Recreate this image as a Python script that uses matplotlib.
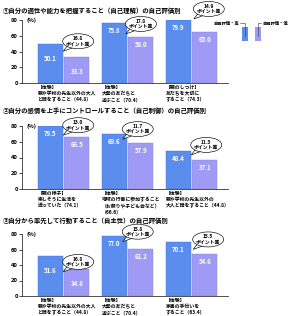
import matplotlib
matplotlib.use("Agg")
import matplotlib.pyplot as plt
from matplotlib.patches import Rectangle, Ellipse, Polygon
from matplotlib.lines import Line2D
from matplotlib.transforms import ScaledTranslation

plt.rcParams['font.family'] = ['Noto Sans CJK JP', 'DejaVu Sans']

W, H = 290, 316

titles = [
    "①自分の適性や能力を把握すること（自己理解）の自己評価別",
    "②自分の感情を上手にコントロールすること（自己制御）の自己評価別",
    "③自分から率先して行動すること（自主性）の自己評価別",
]
categories = [
    ["【体験】\n親や学校の先生以外の大人\nと話をすること（44.8）",
     "【体験】\n大勢の友だちと\n遊ぶこと（70.4）",
     "【親のしつけ】\n友だちを大切に\nすること（74.3）"],
    ["【親の様子】\n楽しそうに生活を\n送っていた（74.1）",
     "【体験】\n地域の行事に参加すること\n（お祭りや子ども会など）\n（66.6）",
     "【体験】\n親や学校の先生以外の\n大人と話をすること（44.8）"],
    ["【体験】\n親や学校の先生以外の大人\nと話をすること（44.8）",
     "【体験】\n大勢の友だちと\n遊ぶこと（70.4）",
     "【体験】\n家事の手伝いを\nすること（63.4）"],
]
high_values = [
    [50.1, 75.8, 79.9],
    [79.5, 69.6, 48.4],
    [51.6, 77.0, 70.1],
]
low_values = [
    [33.3, 58.0, 65.0],
    [66.5, 57.9, 37.1],
    [34.8, 61.2, 54.6],
]
diff_labels = [
    ["16.8", "17.8", "14.9"],
    ["13.0", "11.7", "11.3"],
    ["16.8", "15.8", "15.5"],
]
legend_labels = ["自己評価・高", "自己評価・低"]
yticks = [0, 20, 40, 60, 80]

# layout (pixel based)
panel_px = [(20, 83), (126, 189), (234, 296)]   # (top of 80, zero line)
title_px = [10, 110, 221]
bubble_pos = [
    [(0.23, 53), (0.21, 75), (0.27, 94)],
    [(0.23, 81), (0.16, 76), (0.23, 56)],
    [(0.23, 44), (0.16, 83), (0.26, 73)],
]
label_drop = [
    [11, 4, 4],
    [4, 4, 4],
    [11, 4, 4],
]

blue = '#5B8DEF'
lav = '#9F9BF4'
ax_left_px, ax_right_px = 22, 228
xmin, xmax = -0.648, 2.57
bw = 0.39
off = 0.21

fig = plt.figure(figsize=(W / 100, H / 100), dpi=100)


def bubble(ax, x, y, text):
    tr = fig.dpi_scale_trans + ScaledTranslation(x, y, ax.transData)
    tail = Polygon([(-0.10, -0.035), (-0.04, -0.06), (-0.15, -0.10)], closed=True,
                   facecolor='white', edgecolor='black', lw=0.45, transform=tr,
                   clip_on=False, zorder=5)
    ell = Ellipse((0, 0), 0.31, 0.15, facecolor='white', edgecolor='black', lw=0.45,
                  transform=tr, clip_on=False, zorder=6)
    ax.add_patch(tail)
    ax.add_patch(ell)
    ax.text(x, y, text, ha='center', va='center', fontsize=3.5, fontweight='bold',
            linespacing=1.05, zorder=7, clip_on=False)


for p in range(3):
    top_px, zero_px = panel_px[p]
    ax = fig.add_axes([ax_left_px / W, 1 - zero_px / H,
                       (ax_right_px - ax_left_px) / W, (zero_px - top_px) / H])
    ax.set_xlim(xmin, xmax)
    ax.set_ylim(0, 80)
    xs = list(range(3))
    ax.bar([x - off for x in xs], high_values[p], width=bw, color=blue,
           edgecolor='#4a74c8', linewidth=0.3, zorder=2)
    ax.bar([x + off for x in xs], low_values[p], width=bw, color=lav,
           edgecolor='#8582d6', linewidth=0.3, zorder=2)
    ppd = (zero_px - top_px) / 80.0  # px per data unit
    for i in xs:
        for x, v in ((i - off, high_values[p][i]), (i + off, low_values[p][i])):
            ax.text(x, v - label_drop[p][i] / ppd, f"{v:.1f}", ha='center', va='top',
                    color='white', fontsize=4.4, fontweight='bold', zorder=3)
        bx, by = bubble_pos[p][i]
        bubble(ax, i + bx, by, f"{diff_labels[p][i]}\nポイント差")
        ax.text(i - off - bw / 2, -2 / ppd, categories[p][i], ha='left', va='top',
                fontsize=3.5, fontweight='bold', linespacing=1.25, clip_on=False)
    ax.set_xticks([])
    ax.set_yticks(yticks)
    ax.set_yticklabels([str(t) for t in yticks], fontsize=4.2, fontweight='bold')
    ax.tick_params(axis='y', length=2, width=0.5, pad=1)
    for s in ('top', 'right'):
        ax.spines[s].set_visible(False)
    for s in ('left', 'bottom'):
        ax.spines[s].set_linewidth(0.6)
        ax.spines[s].set_color('#333333')
    ax.text(xmin + 0.07, 80, "(%)", ha='left', va='center', fontsize=4.2,
            fontweight='bold', clip_on=False)
    fig.text(3 / W, 1 - title_px[p] / H, titles[p], ha='left', va='center',
             fontsize=4.6, fontweight='bold')

# legend
for (x0, x1), col, lab, side in (((242, 248), blue, legend_labels[0], 'left'),
                                 ((255, 261), lav, legend_labels[1], 'right')):
    fig.add_artist(Rectangle((x0 / W, 1 - 41 / H), (x1 - x0) / W, 14 / H,
                             facecolor=col, edgecolor='none', transform=fig.transFigure))
    cx = (x0 + x1) / 2
    if side == 'left':
        fig.text(239 / W, 1 - 23 / H, lab, ha='right', va='center', fontsize=3.1,
                 fontweight='bold')
        fig.add_artist(Line2D([240 / W, cx / W, cx / W], [1 - 23 / H, 1 - 23 / H, 1 - 36 / H],
                              color='#333333', lw=0.4, transform=fig.transFigure))
    else:
        fig.text(262 / W, 1 - 23 / H, lab, ha='left', va='center', fontsize=3.1,
                 fontweight='bold')
        fig.add_artist(Line2D([261 / W, cx / W, cx / W], [1 - 23 / H, 1 - 23 / H, 1 - 36 / H],
                              color='#333333', lw=0.4, transform=fig.transFigure))

fig.savefig("out.png", dpi=100)
